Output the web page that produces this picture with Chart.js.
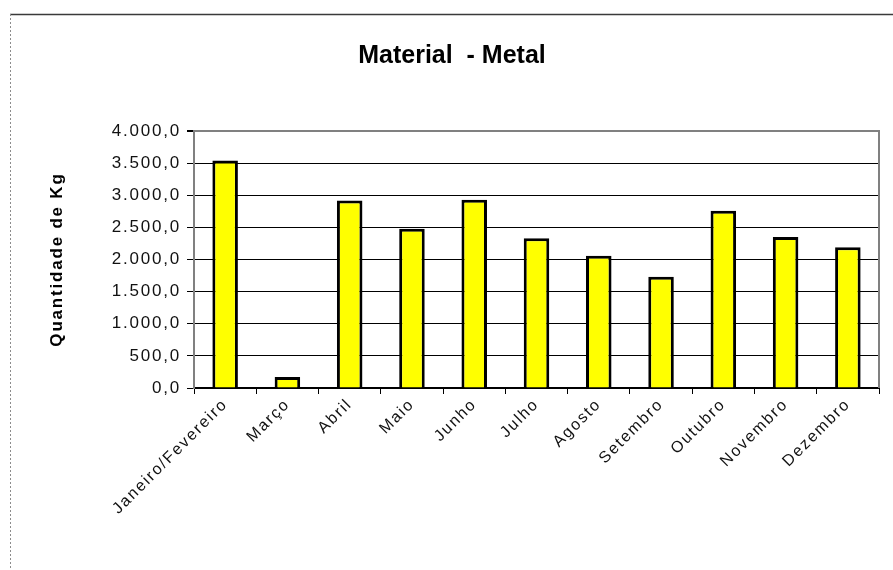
<!DOCTYPE html>
<html>
<head>
<meta charset="utf-8">
<script src="https://cdn.jsdelivr.net/npm/chart.js@4/dist/chart.umd.min.js"></script>
<style>
  html, body { margin: 0; padding: 0; background: #fff; overflow: hidden; }
  #wrap { width: 893px; height: 570px; position: relative; }
</style>
</head>
<body>
<div id="wrap"><canvas id="c" width="893" height="570"></canvas></div>
<script>
// Monthly collected metal (kg)
const months = ['Janeiro/Fevereiro', 'Março', 'Abril', 'Maio', 'Junho', 'Julho',
                'Agosto', 'Setembro', 'Outubro', 'Novembro', 'Dezembro'];
const metalKg = [3540, 170, 2920, 2480, 2930, 2330, 2060, 1730, 2760, 2350, 2190];
const chartTitle = 'Material  - Metal';
const yAxisTitle = 'Quantidade de Kg';
const yMin = 0, yMax = 4000, yStep = 500;

const FONT = '"Liberation Sans", Arial, Helvetica, sans-serif';
const AXIS_SPACING = '1.8px';

// pt-BR number style: 3.500,0
function formatKg(v) {
  const s = Math.round(v).toString().replace(/\B(?=(\d{3})+(?!\d))/g, '.');
  return s + ',0';
}

// Outer frame, right edge of the plot box and the heading
const frameAndHeading = {
  id: 'frameAndHeading',
  beforeLayout(chart) {
    chart.ctx.letterSpacing = AXIS_SPACING;
  },
  beforeDraw(chart) {
    const ctx = chart.ctx;
    ctx.save();
    ctx.strokeStyle = '#3a3a3a';
    ctx.lineWidth = 1.5;
    ctx.beginPath();
    ctx.moveTo(10, 14.5);
    ctx.lineTo(893, 14.5);
    ctx.stroke();
    ctx.strokeStyle = '#8c8c8c';
    ctx.lineWidth = 1;
    ctx.setLineDash([2, 2]);
    ctx.beginPath();
    ctx.moveTo(10.5, 14);
    ctx.lineTo(10.5, 570);
    ctx.stroke();
    ctx.restore();
    ctx.letterSpacing = AXIS_SPACING;
  },
  beforeDatasetsDraw(chart) {
    const {ctx, chartArea} = chart;
    ctx.save();
    ctx.strokeStyle = '#808080';
    ctx.lineWidth = 2;
    ctx.beginPath();
    ctx.moveTo(chartArea.right, chartArea.top - 1);
    ctx.lineTo(chartArea.right, chartArea.bottom);
    ctx.stroke();
    ctx.restore();
  },
  afterDraw(chart) {
    const ctx = chart.ctx;
    ctx.save();
    ctx.letterSpacing = '0px';
    ctx.fillStyle = '#000';
    ctx.font = 'bold 25px ' + FONT;
    ctx.textAlign = 'center';
    ctx.textBaseline = 'alphabetic';
    ctx.fillText(chartTitle, 452, 63);
    ctx.restore();
    ctx.letterSpacing = '0px';
  }
};

new Chart(document.getElementById('c'), {
  type: 'bar',
  data: {
    labels: months,
    datasets: [{
      data: metalKg,
      backgroundColor: '#ffff00',
      borderColor: '#000',
      borderWidth: 3,
      barPercentage: 0.41,
      categoryPercentage: 1.0
    }]
  },
  options: {
    responsive: false,
    animation: false,
    devicePixelRatio: 1,
    layout: { padding: { top: 131, right: 14, bottom: 0, left: 0 } },
    plugins: {
      legend: { display: false },
      tooltip: { enabled: false },
      title: { display: false }
    },
    scales: {
      x: {
        ticks: {
          color: '#111',
          font: { family: FONT, size: 16 },
          minRotation: 45,
          maxRotation: 45,
          autoSkip: false,
          padding: 1
        },
        grid: {
          drawOnChartArea: false,
          drawTicks: true,
          tickLength: 6,
          color: '#000',
          tickColor: '#000',
          offset: true
        },
        border: { color: '#000', width: 2 },
        afterFit(scale) { scale.height = 182; }
      },
      y: {
        min: yMin,
        max: yMax,
        ticks: {
          stepSize: yStep,
          color: '#111',
          font: { family: FONT, size: 17 },
          padding: 6,
          callback: (v) => formatKg(v)
        },
        grid: {
          color: (c) => (c.tick && c.tick.value === yMax) ? '#808080' : '#000',
          lineWidth: (c) => (c.tick && c.tick.value === yMax) ? 2 : 1,
          tickLength: 7,
          tickColor: '#000',
          drawTicks: true
        },
        border: { color: '#808080', width: 2 },
        title: {
          display: true,
          text: yAxisTitle,
          color: '#000',
          font: { family: FONT, size: 17, weight: 'bold' },
          padding: { top: 47, bottom: 0 }
        },
        afterFit(scale) { scale.width = 194; }
      }
    }
  },
  plugins: [frameAndHeading]
});
</script>
</body>
</html>
